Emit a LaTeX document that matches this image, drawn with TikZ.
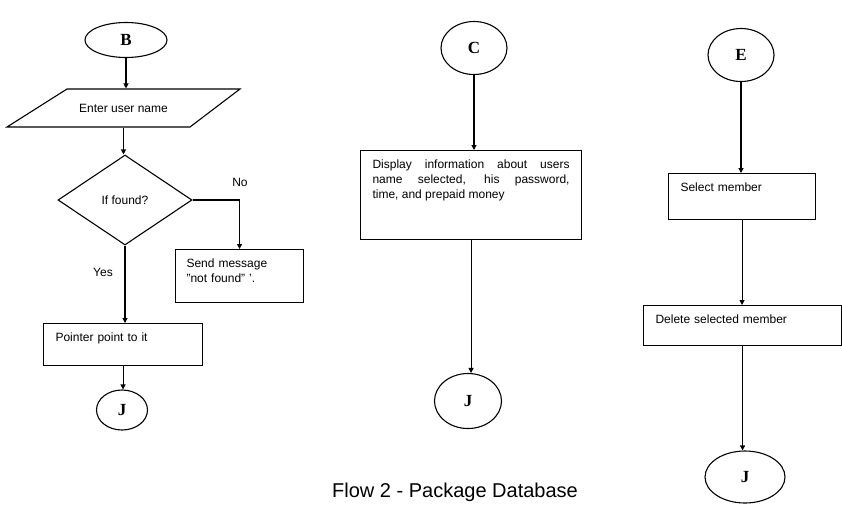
\documentclass[tikz,border=0pt]{standalone}
\usepackage{fontspec}
\setmainfont{Liberation Sans}
\newfontfamily\letterfont{Liberation Serif}
\usetikzlibrary{shapes.geometric,arrows.meta}

\begin{document}
\begin{tikzpicture}[x=1pt, y=-1pt, line width=1.1pt, >={Triangle[length=5pt,width=5pt]},
  font=\fontsize{12}{15}\selectfont,
  connector/.style={draw, ellipse, inner sep=0pt, minimum width=66pt, minimum height=53pt, font=\letterfont\bfseries\fontsize{17}{17}\selectfont},
  procbox/.style={draw, anchor=north west, align=left, inner xsep=12pt, inner ysep=9pt, text height=9pt}]
\useasboundingbox (0,0) rectangle (842,504);

\node[connector, minimum width=82pt, minimum height=35pt] (B) at (126,40) {B};
\node[minimum height=38pt, inner sep=0pt] (entername) at (123.5,108) {Enter user name};
\draw[shift={(entername.center)}] (-56.5,-19) -- (116.5,-19) -- (66.5,19) -- (-116.5,19) -- cycle;
\node[draw, diamond, aspect=1.49, minimum width=134pt, minimum height=90pt, inner sep=0pt] (found) at (125,200) {If found?};
\node[procbox, text width=106pt, text depth=26pt, inner xsep=11pt] (notfound) at (175,249) {Send message\\"not found" '.};
\node[procbox, text width=135pt, text depth=15pt] (pointer) at (43,323) {Pointer point to it};
\node[connector, minimum width=51pt, minimum height=40pt] (J1) at (122,410) {J};
\node (no) at (240,182) {No};
\node (yes) at (103,272) {Yes};

\node[connector] (C) at (474,48) {C};
\node[procbox, text width=197pt, text depth=62pt, align=justify] (display) at (360,150) {Display information about users\linebreak name selected, his password,\linebreak time, and prepaid money};
\node[connector, minimum width=67pt, minimum height=55pt] (J2) at (468,401) {J};

\node[connector] (E) at (741,55) {E};
\node[procbox, text width=123pt, text depth=19pt] (select) at (668,173) {Select member};
\node[procbox, text width=174pt, text depth=13pt] (delete) at (643,305) {Delete selected member};
\node[connector, minimum width=80pt, minimum height=52pt] (J3) at (745,477) {J};

\node[font=\fontsize{20}{20}\selectfont, anchor=base] (caption) at (455,497) {Flow 2 - Package Database};

\draw[->] (B.south) -- (B.south |- entername.north);
\draw[->] (entername.south) -- (entername.south |- found.north);
\draw[->] (found.east) -| (notfound.north);
\draw[->] (found.south) -- (found.south |- pointer.north);
\draw[->] (pointer.south) -- (pointer.south |- J1.north);
\draw[->] (C.south) -- (C.south |- display.north);
\draw[->] (display.south) -- (display.south |- J2.north);
\draw[->] (E.south) -- (E.south |- select.north);
\draw[->] (select.south) -- (select.south |- delete.north);
\draw[->] (delete.south) -- (delete.south |- J3.north);
\end{tikzpicture}
\end{document}
